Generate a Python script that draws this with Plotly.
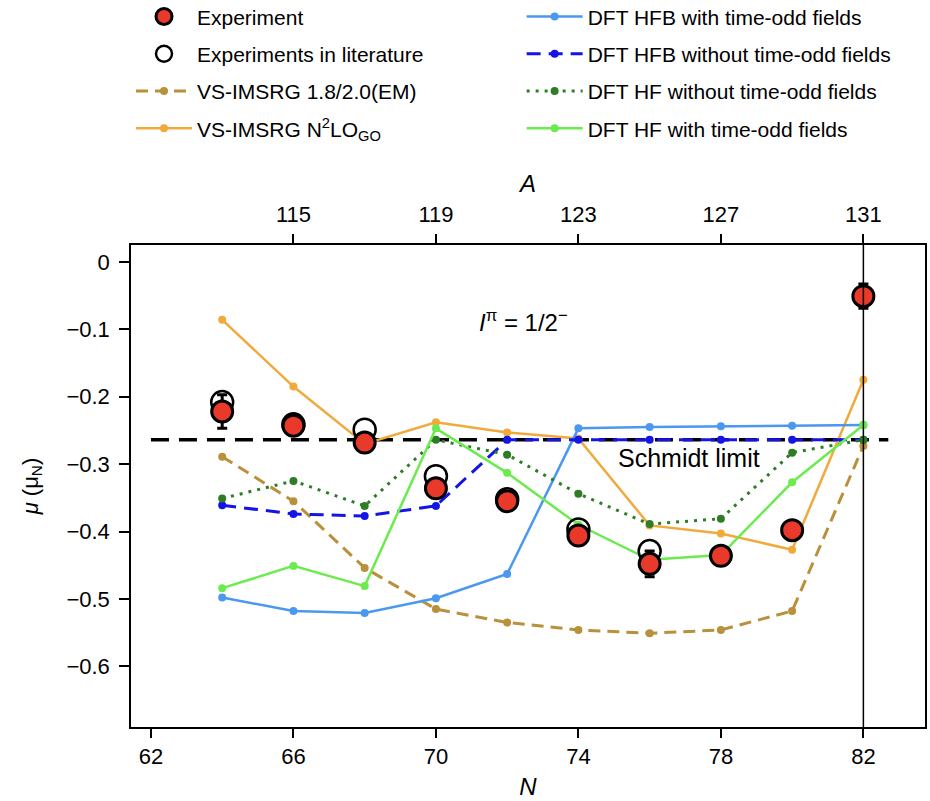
import plotly.graph_objects as go

# Neutron number N and mass number A = N + 49 (Z = 49)
N = [64, 66, 68, 70, 72, 74, 76, 78, 80, 82]
Z = 49
top_ticks_A = [115, 119, 123, 127, 131]
bottom_ticks_N = [62, 66, 70, 74, 78, 82]
y_ticks = [0, -0.1, -0.2, -0.3, -0.4, -0.5, -0.6]

# Measured magnetic moments (mu_N)
mu_exp = [-0.222, -0.243, -0.268, -0.336, -0.355, -0.406, -0.448, -0.436, -0.398, -0.051]
mu_exp_err = [0.025, 0.006, 0.006, 0.012, 0.006, 0.008, 0.019, 0.006, 0.006, 0.018]

# Earlier literature values
mu_lit = [-0.208, -0.241, -0.249, -0.318, -0.352, -0.397, -0.429, None, None, None]

# Theory
vs_imsrg_em = [-0.289, -0.355, -0.454, -0.515, -0.535, -0.546, -0.551, -0.546, -0.518, -0.273]
vs_imsrg_go = [-0.086, -0.185, -0.270, -0.238, -0.253, -0.262, -0.391, -0.403, -0.427, -0.175]
hfb_odd = [-0.498, -0.518, -0.521, -0.499, -0.463, -0.247, -0.245, -0.244, -0.243, -0.242]
hfb_no_odd = [-0.361, -0.374, -0.377, -0.362, -0.264, -0.264, -0.264, -0.264, -0.264, -0.264]
hf_no_odd = [-0.351, -0.325, -0.362, -0.264, -0.286, -0.344, -0.389, -0.381, -0.283, -0.264]
hf_odd = [-0.484, -0.451, -0.481, -0.247, -0.313, -0.390, -0.442, -0.435, -0.327, -0.242]

schmidt_mu = -0.264
schmidt_N = [62, 82.7]
closed_shell_N = 82

FONT = "Liberation Sans, Arial, Helvetica, sans-serif"

fig = go.Figure()

# Schmidt limit
fig.add_trace(go.Scatter(
    x=schmidt_N, y=[schmidt_mu] * 2, mode="lines",
    line=dict(color="black", width=3.5, dash="18px,10px"),
    showlegend=False, hoverinfo="skip"))


def theory(y, name, color, dash, width, legend, rank):
    fig.add_trace(go.Scatter(
        x=N, y=y, name=name, mode="lines+markers",
        line=dict(color=color, width=width, dash=dash),
        marker=dict(color=color, size=8),
        legend=legend, legendgroup=name, legendrank=rank))


theory(vs_imsrg_em, "VS-IMSRG 1.8/2.0(EM)", "#B9903B", "12px,7px", 3, "legend", 3)
theory(vs_imsrg_go, "VS-IMSRG N<sup>2</sup>LO<sub>GO</sub>", "#F2A93C", "solid", 2.5, "legend", 4)
theory(hfb_odd, "DFT HFB with time-odd fields", "#4A98F0", "solid", 2.5, "legend2", 1)
theory(hfb_no_odd, "DFT HFB without time-odd fields", "#1414E6", "14px,8px", 3, "legend2", 2)
theory(hf_no_odd, "DFT HF without time-odd fields", "#2E7D25", "3px,6px", 3, "legend2", 3)
theory(hf_odd, "DFT HF with time-odd fields", "#6BEB4E", "solid", 2.5, "legend2", 4)

# Literature values
fig.add_trace(go.Scatter(
    x=N, y=mu_lit, name="Experiments in literature", mode="markers",
    marker=dict(size=22, color="rgba(255,255,255,0)",
                line=dict(color="black", width=2.5)),
    legend="legend", legendgroup="lit", legendrank=2))

# This work
fig.add_trace(go.Scatter(
    x=N, y=mu_exp, name="Experiment", mode="markers",
    marker=dict(size=21, color="#E8392B", line=dict(color="black", width=3)),
    error_y=dict(type="data", array=mu_exp_err, color="black",
                 thickness=3, width=5),
    legend="legend", legendgroup="exp", legendrank=1))

# invisible trace carrying the mass-number axis
fig.add_trace(go.Scatter(
    x=[n + Z for n in N], y=mu_exp, xaxis="x2", mode="markers",
    marker=dict(opacity=0), showlegend=False, hoverinfo="skip"))

fig.add_vline(x=closed_shell_N, line=dict(color="black", width=1.5))

x_range = [61.44, 83.73]

legend_style = dict(
    yanchor="top", xanchor="left", bgcolor="rgba(0,0,0,0)", borderwidth=0,
    font=dict(size=21), tracegroupgap=7, itemwidth=56, traceorder="grouped")

fig.update_layout(
    width=930, height=801,
    margin=dict(l=131, r=5, t=245, b=74, autoexpand=False),
    paper_bgcolor="white", plot_bgcolor="white",
    font=dict(family=FONT, size=22, color="black"),
    xaxis=dict(
        range=x_range, tickvals=bottom_ticks_N,
        ticks="outside", ticklen=9, tickwidth=1.5, tickcolor="black",
        showline=True, linecolor="black", linewidth=1.5, mirror=False,
        showgrid=False, zeroline=False,
        title=dict(text="<i>N</i>", standoff=10, font=dict(size=24))),
    xaxis2=dict(
        range=[x_range[0] + Z, x_range[1] + Z], tickvals=top_ticks_A,
        overlaying="x", side="top", anchor="y",
        ticks="outside", ticklen=9, tickwidth=1.5, tickcolor="black",
        showline=True, linecolor="black", linewidth=1.5,
        showgrid=False, zeroline=False, ticklabelstandoff=3,
        title=dict(text="<i>A</i>", standoff=3, font=dict(size=24))),
    yaxis=dict(
        range=[-0.69, 0.025], tickvals=y_ticks,
        ticktext=[f"{v:.1f}".replace("-", "\u2212") if v else "0" for v in y_ticks],
        ticks="outside", ticklen=10, tickwidth=1.5, tickcolor="black",
        showline=True, linecolor="black", linewidth=1.5, mirror=True,
        showgrid=False, zeroline=False, ticklabelstandoff=5,
        title=dict(text="<i>μ</i> (μ<sub>N</sub>)", standoff=22, font=dict(size=22))),
    legend=dict(x=0.0, y=1.516, **legend_style),
    legend2=dict(x=0.492, y=1.516, **legend_style),
    annotations=[
        dict(x=72.45, y=-0.088, xref="x", yref="y", showarrow=False,
             text="<i>I</i><sup>π</sup> = 1/2<sup>−</sup>", font=dict(size=24)),
        dict(x=77.1, y=schmidt_mu, xref="x", yref="y", showarrow=False,
             yshift=-18, text="Schmidt limit", font=dict(size=25)),
    ],
)

fig.write_html("out.html")
